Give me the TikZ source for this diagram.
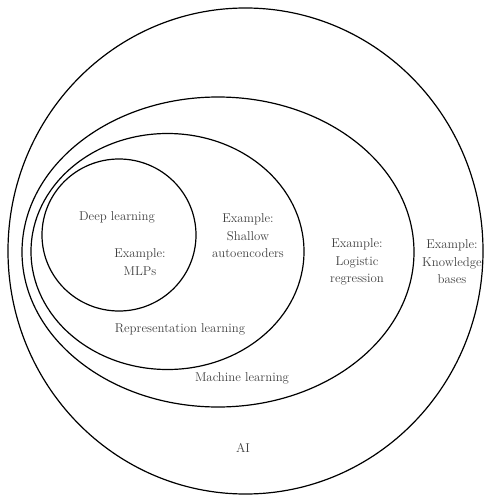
\documentclass[tikz,border=0pt]{standalone}
\usepackage{amsmath, tikz, xcolor}

\begin{document}
\begin{tikzpicture}[x=1pt, y=-1pt, line width=1.2pt,
    lbl/.style={align=center, font=\fontsize{12.8}{17.5}\selectfont, text=black!75}]
    \useasboundingbox (0,0) rectangle (485,495);
    \draw (245.5,251) ellipse [x radius=237.5, y radius=243];
    \draw (218,252) ellipse [x radius=196, y radius=155];
    \draw (167.5,251.5) ellipse [x radius=136.5, y radius=118];
    \draw (119,235) ellipse [x radius=77, y radius=76];
    \node[lbl] (dl) at (117,217) {Deep learning};
    \node[lbl] (mlp) at (140,262) {Example:\\MLPs};
    \node[lbl] (sae) at (248,236) {Example:\\Shallow\\autoencoders};
    \node[lbl] (lr) at (357,262) {Example:\\Logistic\\regression};
    \node[lbl] (kb) at (452,262) {Example:\\Knowledge\\bases};
    \node[lbl] (rl) at (180,329) {Representation learning};
    \node[lbl] (ml) at (242,378) {Machine learning};
    \node[lbl] (ai) at (243,448) {AI};
    \end{tikzpicture}
\end{document}
